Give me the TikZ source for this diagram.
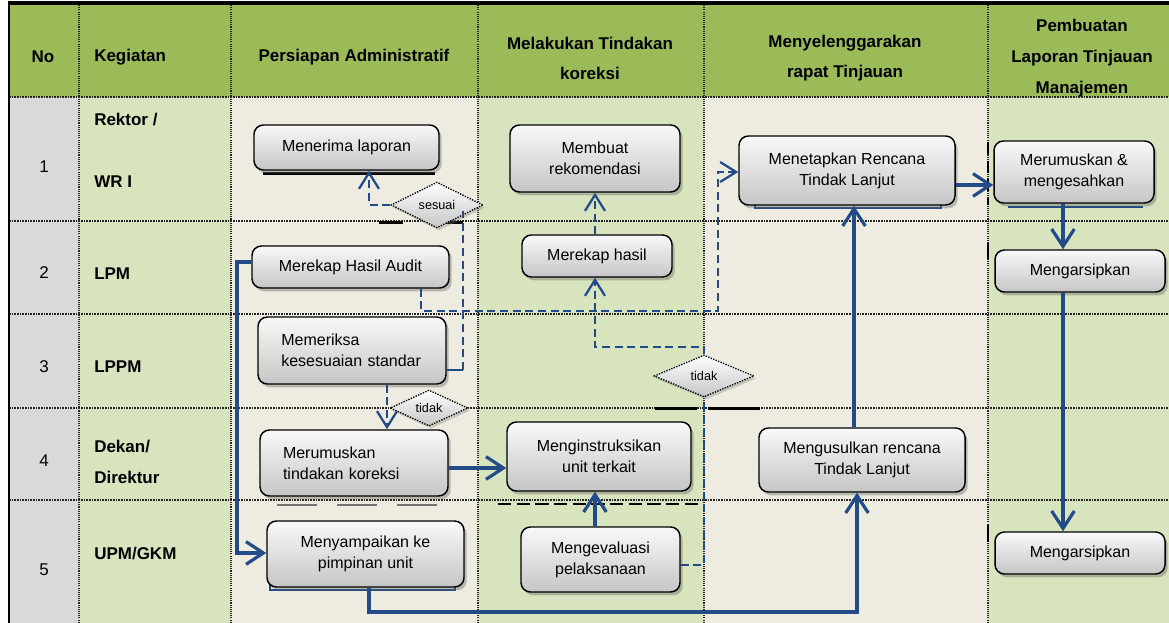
\documentclass[tikz,border=0pt]{standalone}
\usepackage{fontspec}
\setmainfont{Liberation Sans}
\usetikzlibrary{shapes.geometric,arrows.meta,shadows}
\definecolor{hdrg}{HTML}{9BBB59}
\definecolor{lgreen}{HTML}{D7E4BD}
\definecolor{beige}{HTML}{EEECE1}
\definecolor{lgray}{HTML}{D9D9D9}
\definecolor{cblue}{RGB}{35,75,135}
\begin{document}
\begin{tikzpicture}[x=0.75pt,y=-0.75pt,
  hdr/.style={font=\fontsize{12.75}{22.5}\selectfont\bfseries, align=center, inner sep=0},
  lbl/.style={font=\fontsize{12.75}{15}\selectfont\bfseries, anchor=west, inner sep=0},
  num/.style={font=\fontsize{12.75}{15}\selectfont, inner sep=0},
  box/.style={draw=black, line width=1.1pt, rounded corners=7pt, top color=gray!5, bottom color=gray!45,
    inner sep=0, align=center, font=\fontsize{12}{15.75}\selectfont,
    drop shadow={shadow xshift=2pt, shadow yshift=-2.5pt, fill=black!60, opacity=0.4}},
  dia/.style={diamond, draw=black, dash pattern=on 1pt off 1pt, line width=1pt, top color=white, bottom color=gray!45,
    inner sep=0, font=\fontsize{9.5}{11}\selectfont,
    drop shadow={shadow xshift=1.5pt, shadow yshift=-2pt, fill=black!50, opacity=0.35}},
  hgrid/.style={black!85, line width=1.4pt, dash pattern=on 1.2pt off 0.8pt},
  vgrid/.style={black!85, line width=0.8pt, dash pattern=on 0.8pt off 0.8pt},
  dl/.style={cblue, line width=1.7pt, dash pattern=on 6pt off 3.5pt},
  dla/.style={dl, -{Straight Barb[length=12pt,width=15pt]}},
  sln/.style={cblue, line width=1.7pt},
  sl/.style={cblue, line width=2.4pt},
  sla/.style={sl, -{Straight Barb[length=13pt,width=17pt]}}
]
\useasboundingbox (0,0) rectangle (1169,623);
% backgrounds
\fill[hdrg] (8,3) rectangle (1169,97);
\fill[lgray] (9,97) rectangle (79,623);
\fill[lgreen] (79,97) rectangle (231,623);
\fill[beige] (231,97) rectangle (478,623);
\fill[lgreen] (478,97) rectangle (704,623);
\fill[beige] (704,97) rectangle (988,623);
\fill[lgreen] (988,97) rectangle (1169,623);
% header text
\node[hdr] (h0) at (43,57) {No};
\node[hdr, anchor=west] (h1) at (94,57) {Kegiatan};
\node[hdr] (h2) at (354,57) {Persiapan Administratif};
\node[hdr] (h3) at (590,58) {Melakukan Tindakan\\koreksi};
\node[hdr] (h4) at (845,58) {Menyelenggarakan\\rapat Tinjauan};
\node[hdr, font=\fontsize{12.75}{23.25}\selectfont\bfseries] (h5) at (1082,58) {Pembuatan\\Laporan Tinjauan\\Manajemen};
% grid
\foreach \yy in {97,221,314,408,500} \draw[hgrid] (9,\yy) -- (1169,\yy);
\foreach \xx in {79,231,478,704,988} \draw[vgrid] (\xx,3) -- (\xx,623);
\draw[line width=2.2pt] (9,3) -- (9,623);
\draw[line width=2.4pt] (8,3) -- (1169,3);
% row labels
\node[num] (n1) at (44,167) {1};
\node[num] (n2) at (44,273) {2};
\node[num] (n3) at (44,367) {3};
\node[num] (n4) at (44,461) {4};
\node[num] (n5) at (44,570) {5};
\node[lbl] (k1a) at (94,120) {Rektor /};
\node[lbl] (k1b) at (94,182) {WR I};
\node[lbl] (k2) at (94,274) {LPM};
\node[lbl] (k3) at (94,367) {LPPM};
\node[lbl] (k4a) at (94,447) {Dekan/};
\node[lbl] (k4b) at (94,477) {Direktur};
\node[lbl] (k5) at (94,554) {UPM/GKM};
% stray marks of the original
\fill[black] (263,172) rectangle (435,175);
\fill[black] (379,221) rectangle (403,224);
\fill[black] (443,221) rectangle (463,224);
\fill[black] (655,407) rectangle (697,409.5);
\fill[black] (708,407) rectangle (760,409.5);
\draw[black, line width=2pt, dash pattern=on 10pt off 4pt] (498,504) -- (702,504);
\draw[black!55, line width=2pt, dash pattern=on 30pt off 15pt] (277,505) -- (445,505);
\draw[black, line width=1.6pt, dash pattern=on 9pt off 5pt] (988,142) -- (988,205);
\draw[black, line width=1.6pt] (988,243) -- (988,259);
\draw[black, line width=1.6pt] (988,525) -- (988,542);
\draw[cblue, line width=2pt] (270,585) -- (270,590) -- (455,590) -- (455,585);
\draw[cblue, line width=1.5pt] (755,201) -- (755,208) -- (941,208) -- (941,201);
\draw[cblue, line width=2pt] (1008,207) -- (1143,207);
% boxes
\node[box, minimum width=138.75pt, minimum height=33.75pt] (b1) at (346.5,147.5) {Menerima laporan};
\node[box, minimum width=147.75pt, minimum height=31.5pt] (b2) at (350.5,267) {Merekap Hasil Audit};
\node[box, minimum width=141pt, minimum height=50.25pt, text width=106pt, align=left] (b3) at (352,350.5) {Memeriksa\\kesesuaian standar};
\node[box, minimum width=141pt, minimum height=49.5pt, text width=106.5pt, align=left] (b4) at (354,463) {Merumuskan\\tindakan koreksi};
\node[box, minimum width=147.75pt, minimum height=49.5pt] (b5) at (365.5,554) {Menyampaikan ke\\pimpinan unit};
\node[box, minimum width=127.5pt, minimum height=50.25pt] (b6) at (595,158.5) {Membuat\\rekomendasi};
\node[box, minimum width=112.5pt, minimum height=31.5pt] (b7) at (597,256) {Merekap hasil};
\node[box, minimum width=138pt, minimum height=51.75pt] (b8) at (599,456.5) {Menginstruksikan\\unit terkait};
\node[box, minimum width=119.25pt, minimum height=48.75pt] (b9) at (600.5,559.5) {Mengevaluasi\\pelaksanaan};
\node[box, minimum width=162pt, minimum height=51.75pt] (b10) at (847,170.5) {Menetapkan Rencana\\Tindak Lanjut};
\node[box, minimum width=154.5pt, minimum height=48pt] (b11) at (862,460) {Mengusulkan rencana\\Tindak Lanjut};
\node[box, minimum width=120pt, minimum height=46.5pt] (b12) at (1074,172) {Merumuskan \&\\mengesahkan};
\node[box, minimum width=127.5pt, minimum height=31.5pt] (b13) at (1080,271) {Mengarsipkan};
\node[box, minimum width=127.5pt, minimum height=31.5pt] (b14) at (1080,553) {Mengarsipkan};
% decisions
\node[dia, minimum width=69pt, minimum height=28.5pt] (d1) at (437,205) {sesuai};
\node[dia, minimum width=58.5pt, minimum height=22.5pt] (d2) at (429,408) {tidak};
\node[dia, minimum width=75pt, minimum height=31.5pt] (d3) at (704,376) {tidak};
% dashed connectors
\coordinate (c1) at (369,205);
\draw[dla] (d1.west) -- (c1) -- (c1 |- b1.south);
\coordinate (c2) at (463,370);
\coordinate (c3) at (463,211);
\draw[sln] (c2 -| b3.east) -- (c2);
\draw[dl] (c2) -- (c3);
\coordinate (c4) at (387,400);
\draw[dla] (c4 |- b3.south) -- (c4 |- b4.north);
\coordinate (c5) at (421,311);
\coordinate (c6) at (718,311);
\coordinate (c7) at (718,172);
\draw[dla] (c5 |- b2.south) -- (c5) -- (c6) -- (c7) -- (c7 -| b10.west);
\coordinate (c8) at (595,347);
\draw[dla] (c8 |- b7.north) -- (c8 |- b6.south);
\coordinate (c9) at (704,565);
\draw[dl] (c9 -| b9.east) -- (c9) -- (d3.south);
\draw[dla] (d3.north) -- (d3.north |- c8) -- (c8) -- (c8 |- b7.south);
% solid connectors
\coordinate (s1) at (237,262);
\coordinate (s2) at (237,553);
\draw[sla] (s1 -| b2.west) -- (s1) -- (s2) -- (s2 -| b5.west);
\coordinate (s3) at (478,468);
\draw[sla] (s3 -| b4.east) -- (s3 -| b8.west);
\coordinate (s4) at (595,510);
\draw[sla] (s4 |- b9.north) -- (s4 |- b8.south);
\coordinate (s5) at (369,612);
\coordinate (s6) at (857,612);
\draw[sla] (s5 |- b5.south) -- (s5) -- (s6) -- (s6 |- b11.south);
\coordinate (s7) at (854,300);
\draw[sla] (s7 |- b11.north) -- (s7 |- b10.south);
\coordinate (s8) at (975,185);
\draw[sla] (s8 -| b10.east) -- (s8 -| b12.west);
\coordinate (s9) at (1063,400);
\draw[sla] (s9 |- b12.south) -- (s9 |- b13.north);
\draw[sla] (s9 |- b13.south) -- (s9 |- b14.north);
\end{tikzpicture}
\end{document}
